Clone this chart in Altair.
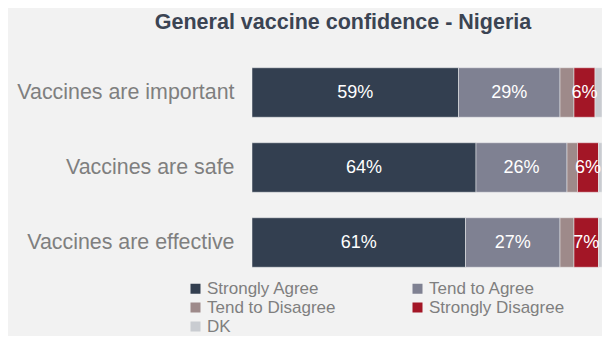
import altair as alt
import pandas as pd

statements = ["Vaccines are important", "Vaccines are safe", "Vaccines are effective"]
responses = ["Strongly Agree", "Tend to Agree", "Tend to Disagree", "Strongly Disagree", "DK"]
colors = ["#333f50", "#7f8192", "#9e8a8a", "#a31626", "#c9ccd1"]
strongly_agree = [59, 64, 61]
tend_agree = [29, 26, 27]
tend_disagree = [4, 3, 4]
strongly_disagree = [6, 6, 7]
dk = [2, 1, 1]

series = [strongly_agree, tend_agree, tend_disagree, strongly_disagree, dk]
rows = []
for ri, r in enumerate(responses):
    for si, s in enumerate(statements):
        rows.append({"statement": s, "response": r, "order": ri, "value": series[ri][si]})
df = pd.DataFrame(rows)

base = alt.Chart(df).transform_stack(
    stack="value", groupby=["statement"], as_=["x0", "x1"],
    sort=[alt.SortField("order", order="ascending")]
).transform_calculate(
    mid="(datum.x0 + datum.x1) / 2",
    label="datum.value + '%'"
)

yenc = alt.Y("statement:N", sort=statements, title=None,
             scale=alt.Scale(paddingInner=0.34, paddingOuter=0.17),
             axis=alt.Axis(labelFontSize=21.4, labelColor="#7f7f7f", labelPadding=18,
                           labelLimit=400, ticks=False, domain=False,
                           labelFont="Liberation Sans"))

bars = base.mark_bar(stroke="#f2f2f2", strokeWidth=0.5).encode(
    y=yenc,
    x=alt.X("x0:Q", scale=alt.Scale(domain=[0, 100], nice=False), axis=None),
    x2="x1:Q",
    color=alt.Color("response:N", sort=responses,
                    scale=alt.Scale(domain=responses, range=colors),
                    legend=alt.Legend(title=None, orient="none", legendX=-65, legendY=225,
                                      direction="horizontal",
                                      columns=2, columnPadding=73, rowPadding=1,
                                      symbolType="square", symbolSize=100, symbolStrokeWidth=0,
                                      labelFontSize=17, labelColor="#7f7f7f",
                                      labelFont="Liberation Sans", labelOffset=3,
                                      labelLimit=300, padding=0)),
)

texts = base.transform_filter("datum.value >= 5").mark_text(
    color="white", fontSize=18, font="Liberation Sans"
).encode(
    y=alt.Y("statement:N", sort=statements),
    x=alt.X("mid:Q"),
    text="label:N",
)

chart = alt.layer(bars, texts).properties(
    width=350, height=225,
    background="#f2f2f2",
    autosize=alt.AutoSizeParams(type="none"),
    padding={"left": 244, "top": 47, "right": 0, "bottom": 56},
    title=alt.TitleParams("General vaccine confidence - Nigeria", fontSize=21.5, fontWeight="bold",
                          color="#3b4453", font="Liberation Sans", anchor="middle",
                          frame="group", dx=-84, offset=22),
).configure_view(stroke=None)

chart.save("out.html", embed_options={"renderer": "svg", "actions": False})
